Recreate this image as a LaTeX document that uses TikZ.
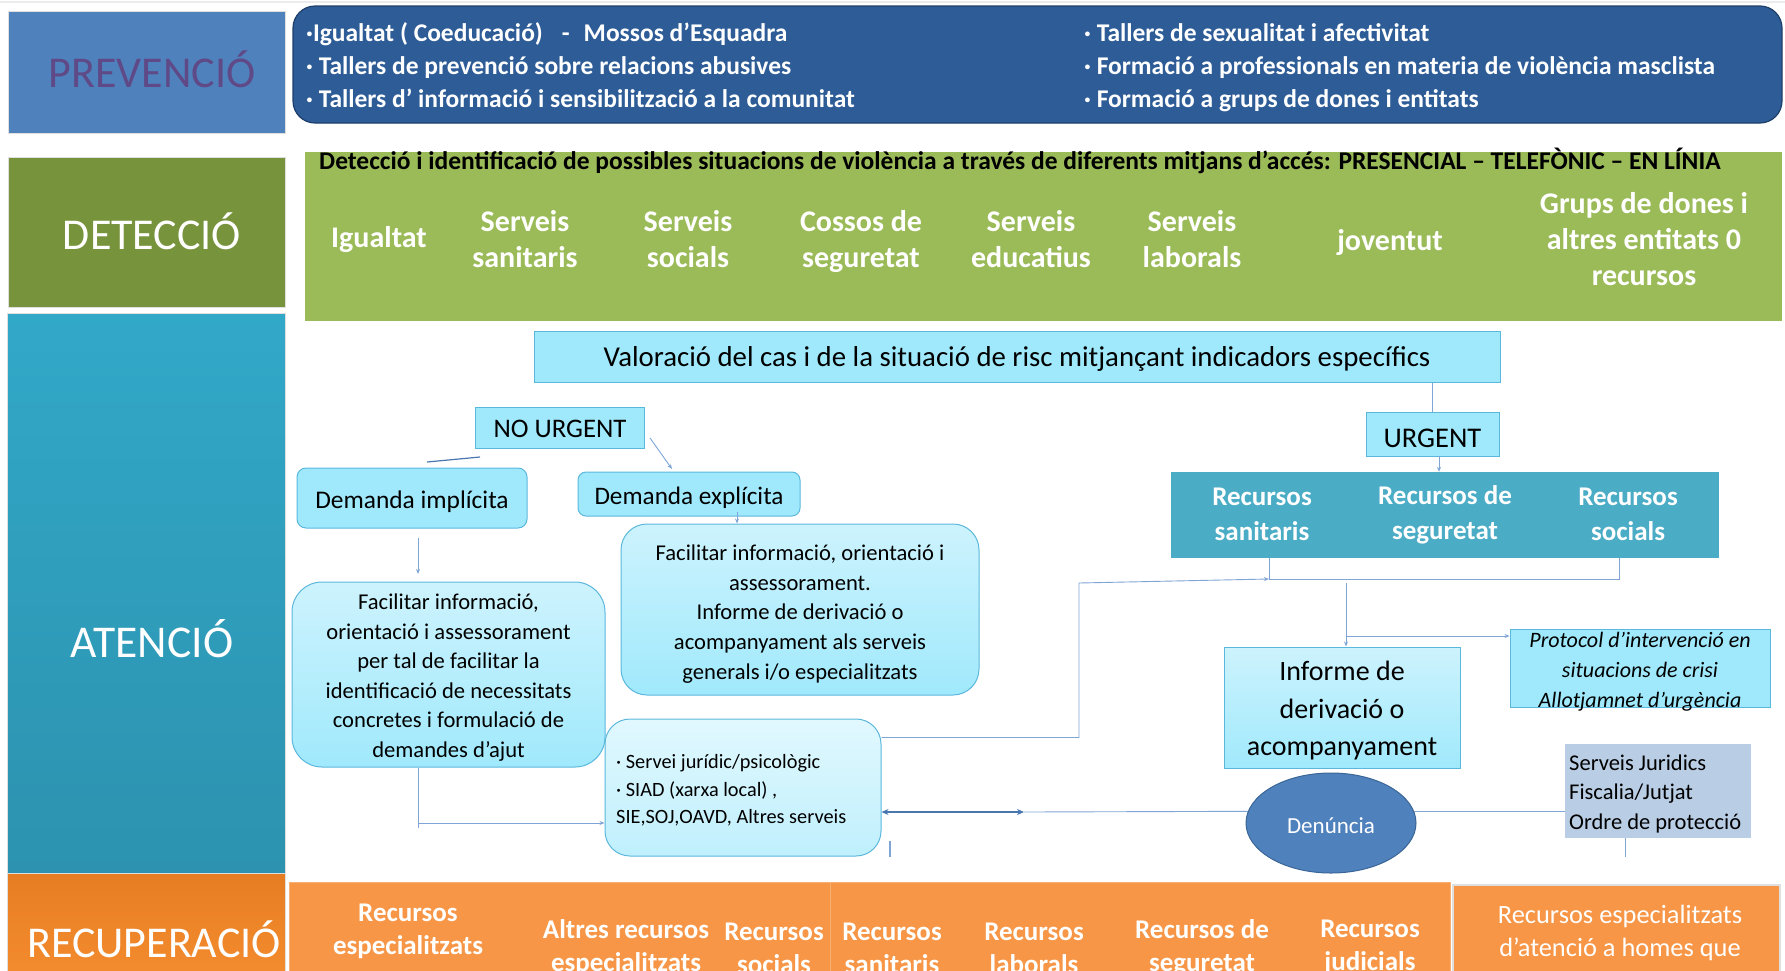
\documentclass[tikz,border=0pt]{standalone}
\usepackage{fontspec}
\setmainfont{Carlito}
\usetikzlibrary{arrows.meta,shapes.geometric,shadings}
\definecolor{prevL}{HTML}{4F81BD}
\definecolor{prevT}{HTML}{5F4A87}
\definecolor{prevR}{HTML}{2D5C97}
\definecolor{prevRb}{HTML}{1F3F6B}
\definecolor{detL}{HTML}{77933C}
\definecolor{detR}{HTML}{9BBB59}
\definecolor{atTop}{HTML}{32A8C8}
\definecolor{atBot}{HTML}{2C92AF}
\definecolor{recTop}{HTML}{E77D23}
\definecolor{recBot}{HTML}{F38C2E}
\definecolor{orng}{HTML}{F79646}
\definecolor{cyanF}{HTML}{A0E9FC}
\definecolor{cyanB}{HTML}{5BB7DC}
\definecolor{cyanLt}{HTML}{CDF3FD}
\definecolor{urgB}{HTML}{4BACC6}
\definecolor{denF}{HTML}{4F81BD}
\definecolor{denB}{HTML}{3A6697}
\definecolor{sjF}{HTML}{B9CDE5}
\definecolor{lineC}{HTML}{7FA5D6}
\definecolor{lineD}{HTML}{4A76B0}
\begin{document}
\begin{tikzpicture}[x=1pt,y=-1pt,
  secbox/.style={inner sep=0pt, draw=gray!25, line width=0.8pt},
  seclab/.style={font=\fontsize{44}{50}\selectfont, text=white, anchor=base, inner sep=0pt},
  cbox/.style={draw=cyanB, fill=cyanF, line width=1pt, inner sep=0pt},
  gbox/.style={draw=cyanB, line width=1pt, inner sep=0pt, top color=cyanLt, bottom color=cyanF},
  txt/.style={inner sep=0pt, align=center},
  conn/.style={draw=lineC, line width=0.9pt},
  arr/.style={-{Stealth[length=5pt,width=4pt]}},
  prevline/.style={anchor=base west, inner sep=0pt, text=white, font=\bfseries\fontsize{25.5}{30}\selectfont},
  detitem/.style={font=\bfseries\fontsize{30}{36}\selectfont, text=white, align=center, inner sep=0pt},
  urgitem/.style={font=\bfseries\fontsize{27}{35}\selectfont, text=white, align=center, inner sep=0pt},
  oritem/.style={font=\bfseries\fontsize{27}{33}\selectfont, text=white, align=center, inner sep=0pt},
  body/.style={font=\fontsize{22.6}{29.6}\selectfont, align=center, inner sep=0pt}
]
\useasboundingbox (0,0) rectangle (1785,970);
\clip (0,0) rectangle (1785,970);
\draw[gray!15, line width=1.5pt] (0,2) -- (1785,2);

% ---------- left column ----------
\node[secbox, fill=prevL, minimum width=277, minimum height=122] (pL) at (146.5,72) {};
\node[seclab, text=prevT] (pLt) at (152,87) {PREVENCIÓ};
\node[secbox, fill=detL, minimum width=277, minimum height=150] (dL) at (146.5,232) {};
\node[seclab] (dLt) at (152,249) {DETECCIÓ};
\node[secbox, top color=atTop, bottom color=atBot, minimum width=278, minimum height=560] (aL) at (146.5,593) {};
\node[seclab, font=\fontsize{45.5}{50}\selectfont] (aLt) at (152,657) {ATENCIÓ};
\node[secbox, top color=recTop, bottom color=recBot, minimum width=278, minimum height=102] (rL) at (146.5,924) {};
\node[seclab] (rLt) at (154,957) {RECUPERACIÓ};

% ---------- prevention ----------
\node[inner sep=0pt, fill=prevR, draw=prevRb, line width=1.2pt, rounded corners=22pt,
      minimum width=1489, minimum height=117] (pR) at (1037.5,64.5) {};
\node[prevline] (p1) at (306,41) {·Igualtat ( Coeducació)\hspace{19pt}-\hspace{14pt}Mossos d’Esquadra};
\node[prevline] (p2) at (306,74) {· Tallers de prevenció sobre relacions abusives};
\node[prevline] (p3) at (306,107) {· Tallers d’ informació i sensibilització a la comunitat};
\node[prevline] (p4) at (1084,41) {· Tallers de sexualitat i afectivitat};
\node[prevline] (p5) at (1084,74) {· Formació a professionals en materia de violència masclista};
\node[prevline] (p6) at (1084,107) {· Formació a grups de dones i entitats};

% ---------- detection ----------
\node[inner sep=0pt, fill=detR, minimum width=1477, minimum height=169] (dR) at (1043.5,236.5) {};
\node[anchor=west, inner sep=0pt, font=\bfseries\fontsize{25.5}{28}\selectfont] (dRh) at (319,161)
  {Detecció i identificació de possibles situacions de violència a través de diferents mitjans d’accés: PRESENCIAL – TELEFÒNIC – EN LÍNIA};
\node[detitem] (d1) at (379,240) {Igualtat};
\node[detitem] (d2) at (525,239) {Serveis\\sanitaris};
\node[detitem] (d3) at (688,239) {Serveis\\socials};
\node[detitem] (d4) at (861,242) {Cossos de\\seguretat};
\node[detitem] (d5) at (1031,239) {Serveis\\educatius};
\node[detitem] (d6) at (1192,239) {Serveis\\laborals};
\node[detitem] (d7) at (1390,242.5) {joventut};
\node[detitem] (d8) at (1644,239) {Grups de dones i\\altres entitats 0\\recursos};

% ---------- attention ----------
\node[cbox, minimum width=966, minimum height=51] (val) at (1017,356.5) {};
\node[txt, font=\fontsize{28.8}{32}\selectfont] (valt) at (1017,359) {Valoració del cas i de la situació de risc mitjançant indicadors específics};
\node[cbox, minimum width=169, minimum height=41] (nou) at (559.5,427.5) {};
\node[txt, font=\fontsize{26.8}{30}\selectfont] (nout) at (560,428.5) {NO URGENT};
\node[cbox, minimum width=133, minimum height=44] (urg) at (1432.5,434) {};
\node[txt, font=\fontsize{28.5}{32}\selectfont] (urgt) at (1432.5,438.5) {URGENT};
\node[inner sep=0pt, fill=urgB, minimum width=548, minimum height=86] (rec) at (1445,515) {};
\node[urgitem] (rec1) at (1262,514.5) {Recursos\\sanitaris};
\node[urgitem] (rec2) at (1445,514.5) {Recursos de\\seguretat};
\node[urgitem] (rec3) at (1628,514.5) {Recursos\\socials};

\node[cbox, rounded corners=9pt, minimum width=230, minimum height=60] (impl) at (412,498) {};
\node[txt, font=\fontsize{25.4}{30}\selectfont] (implt) at (412,501.5) {Demanda implícita};
\node[cbox, rounded corners=8pt, minimum width=222, minimum height=44] (expl) at (689,494) {};
\node[txt, font=\fontsize{25.2}{30}\selectfont] (explt) at (689,497.5) {Demanda explícita};

\node[gbox, rounded corners=26pt, minimum width=358, minimum height=171] (facR) at (800,609.5) {};
\node[body] (facRt) at (800,614)
  {Facilitar informació, orientació i\\assessorament.\\Informe de derivació o\\acompanyament als serveis\\generals i/o especialitzats};
\node[gbox, rounded corners=30pt, minimum width=313, minimum height=185] (facL) at (448.5,674.5) {};
\node[body] (facLt) at (448.5,677.5)
  {Facilitar informació,\\orientació i assessorament\\per tal de facilitar la\\identificació de necessitats\\concretes i formulació de\\demandes d’ajut};
\node[draw=cyanB, line width=1pt, inner sep=0pt, top color=cyanLt!60!white, bottom color=cyanLt!70!cyanF, rounded corners=25pt,
      minimum width=276, minimum height=137] (siad) at (743,787.5) {};
\node[anchor=west, align=flush left, inner sep=0pt, font=\fontsize{20.3}{27.5}\selectfont] (siadt) at (616,790.5)
  {· Servei jurídic/psicològic\\· SIAD (xarxa local) ,\\SIE,SOJ,OAVD, Altres serveis};

\node[gbox, minimum width=236, minimum height=121] (inf) at (1342,707.5) {};
\node[txt, font=\fontsize{28}{37.5}\selectfont] (inft) at (1342,711) {Informe de\\derivació o\\acompanyament};
\node[cbox, minimum width=260, minimum height=78] (prot) at (1640,668) {};
\node[txt, font=\itshape\fontsize{22}{30}\selectfont] (prott) at (1640,672)
  {Protocol d’intervenció en\\situacions de crisi\\Allotjamnet d’urgència};
\node[inner sep=0pt, fill=sjF, minimum width=186, minimum height=94] (sj) at (1658,791) {};
\node[anchor=west, align=flush left, inner sep=0pt, font=\fontsize{22.5}{29.5}\selectfont] (sjt) at (1569,793.5)
  {Serveis Juridics\\Fiscalia/Jutjat\\Ordre de protecció};
\node[ellipse, fill=denF, draw=denB, line width=1pt, minimum width=170, minimum height=100, inner sep=0pt] (den) at (1331,823) {};
\node[txt, text=white, font=\fontsize{23}{28}\selectfont] (dent) at (1331,826) {Denúncia};

% ---------- recovery ----------
\node[inner sep=0pt, fill=orng, draw=orng!75!white, line width=1pt, minimum width=541, minimum height=93] (or1) at (559.5,928.5) {};
\node[inner sep=0pt, fill=orng, draw=orng!75!white, line width=1pt, minimum width=620, minimum height=93] (or2) at (1140,928.5) {};
\node[inner sep=0pt, fill=orng, draw=gray!25, line width=1.5pt, minimum width=327, minimum height=90] (or3) at (1616.5,930) {};
\node[oritem] (o1) at (408,931) {Recursos\\especialitzats};
\node[oritem] (o2) at (626,948) {Altres recursos\\especialitzats};
\node[oritem] (o3) at (774,948) {Recursos\\socials};
\node[oritem] (o4) at (892,948) {Recursos\\sanitaris};
\node[oritem] (o5) at (1034,948) {Recursos\\laborals};
\node[oritem] (o6) at (1202,948) {Recursos de\\seguretat};
\node[oritem] (o7) at (1370,948) {Recursos\\judicials};
\node[txt, text=white, font=\fontsize{26.4}{33}\selectfont] (o8) at (1620,933)
  {Recursos especialitzats\\d’atenció a homes que};

% ---------- connectors ----------
\draw[conn] (urg.north) -- (urg.north |- val.south);
\coordinate (u1) at (1439,456);
\draw[conn,arr] (u1) -- (u1 |- rec.north);
\coordinate (j1) at (1269,579);
\coordinate (j2) at (1619,579);
\draw[conn] (rec.south -| j1) -- (j1) -- (j2) -- (rec.south -| j2);
\coordinate (s1) at (1079,583);
\draw[conn,arr] ([yshift=-19pt]siad.north east) -| (s1) -- (j1);
\coordinate (v1) at (1346,583);
\draw[conn,arr] (v1) -- (v1 |- inf.north);
\coordinate (v2) at (1346,636);
\draw[conn,arr] (v2) -- (v2 -| prot.west);

\coordinate (d1) at (1024,812);
\draw[lineD, line width=2.2pt, {Stealth[length=7pt,width=6pt]}-{Stealth[length=7pt,width=6pt]}] (siad.east |- d1) -- (d1);
\draw[conn] (d1) -- (den.172);
\draw[conn] (den.8) -- (den.8 -| sj.west);

\coordinate (a1) at (418,538);
\coordinate (a2) at (418,574);
\draw[conn,arr] (a1) -- (a2);
\coordinate (b1) at (418,828);
\draw[conn] (facL.south -| b1) -- (b1);
\coordinate (b2) at (418,823);
\draw[conn,arr] (b2) -- (b2 -| siad.west);

\coordinate (n1) at (480,457);
\coordinate (n2) at (427,462);
\draw[lineD, line width=1.2pt] (n1) -- (n2);
\coordinate (n3) at (650,438);
\coordinate (n4) at (672,469);
\draw[conn,arr] (n3) -- (n4);
\coordinate (e1) at (737,512);
\draw[conn,arr] (e1) -- (e1 |- facR.north);

\coordinate (g1) at (890,841);
\coordinate (g2) at (890,857);
\draw[lineC, line width=1.3pt] (g1) -- (g2);
\coordinate (g3) at (1625,857);
\draw[conn] (sj.south -| g3) -- (g3);
\end{tikzpicture}
\end{document}
